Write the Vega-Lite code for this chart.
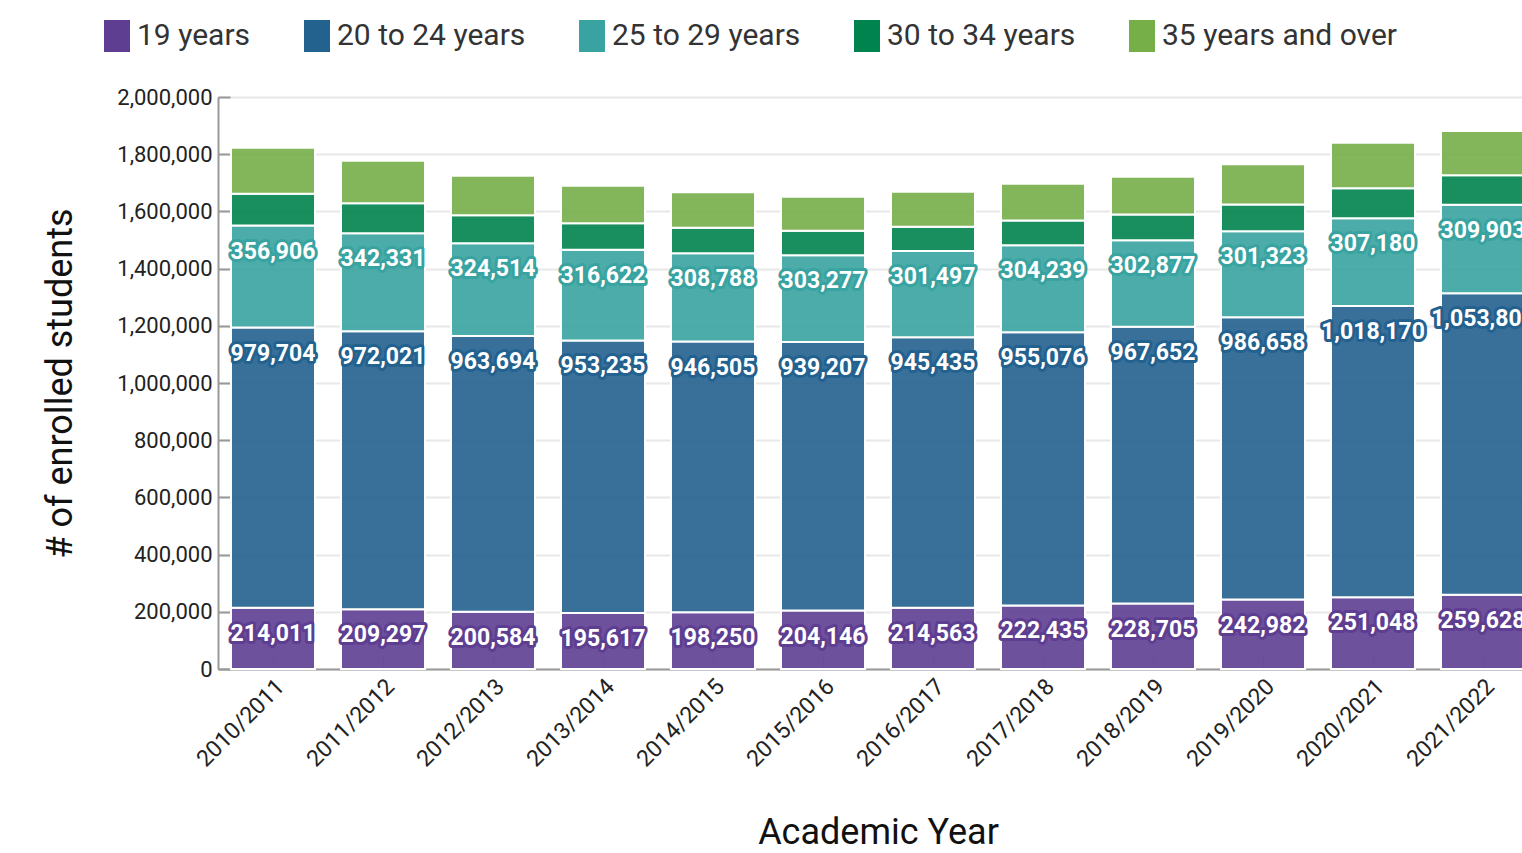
{
  "$schema": "https://vega.github.io/schema/vega-lite/v6.json",
  "width": 1304,
  "height": 572,
  "autosize": {"type": "none"},
  "padding": {"left": 218, "top": 97, "right": 0, "bottom": 184},
  "background": "white",
  "config": {"view": {"stroke": null}, "font": "Roboto"},
  "data": {"values": [
    {"year": "2010/2011", "group": "19 years", "order": 0, "value": 214011},
    {"year": "2010/2011", "group": "20 to 24 years", "order": 1, "value": 979704},
    {"year": "2010/2011", "group": "25 to 29 years", "order": 2, "value": 356906},
    {"year": "2010/2011", "group": "30 to 34 years", "order": 3, "value": 110800},
    {"year": "2010/2011", "group": "35 years and over", "order": 4, "value": 161000},
    {"year": "2011/2012", "group": "19 years", "order": 0, "value": 209297},
    {"year": "2011/2012", "group": "20 to 24 years", "order": 1, "value": 972021},
    {"year": "2011/2012", "group": "25 to 29 years", "order": 2, "value": 342331},
    {"year": "2011/2012", "group": "30 to 34 years", "order": 3, "value": 104900},
    {"year": "2011/2012", "group": "35 years and over", "order": 4, "value": 148600},
    {"year": "2012/2013", "group": "19 years", "order": 0, "value": 200584},
    {"year": "2012/2013", "group": "20 to 24 years", "order": 1, "value": 963694},
    {"year": "2012/2013", "group": "25 to 29 years", "order": 2, "value": 324514},
    {"year": "2012/2013", "group": "30 to 34 years", "order": 3, "value": 97600},
    {"year": "2012/2013", "group": "35 years and over", "order": 4, "value": 138500},
    {"year": "2013/2014", "group": "19 years", "order": 0, "value": 195617},
    {"year": "2013/2014", "group": "20 to 24 years", "order": 1, "value": 953235},
    {"year": "2013/2014", "group": "25 to 29 years", "order": 2, "value": 316622},
    {"year": "2013/2014", "group": "30 to 34 years", "order": 3, "value": 93400},
    {"year": "2013/2014", "group": "35 years and over", "order": 4, "value": 131100},
    {"year": "2014/2015", "group": "19 years", "order": 0, "value": 198250},
    {"year": "2014/2015", "group": "20 to 24 years", "order": 1, "value": 946505},
    {"year": "2014/2015", "group": "25 to 29 years", "order": 2, "value": 308788},
    {"year": "2014/2015", "group": "30 to 34 years", "order": 3, "value": 89200},
    {"year": "2014/2015", "group": "35 years and over", "order": 4, "value": 124100},
    {"year": "2015/2016", "group": "19 years", "order": 0, "value": 204146},
    {"year": "2015/2016", "group": "20 to 24 years", "order": 1, "value": 939207},
    {"year": "2015/2016", "group": "25 to 29 years", "order": 2, "value": 303277},
    {"year": "2015/2016", "group": "30 to 34 years", "order": 3, "value": 85700},
    {"year": "2015/2016", "group": "35 years and over", "order": 4, "value": 119200},
    {"year": "2016/2017", "group": "19 years", "order": 0, "value": 214563},
    {"year": "2016/2017", "group": "20 to 24 years", "order": 1, "value": 945435},
    {"year": "2016/2017", "group": "25 to 29 years", "order": 2, "value": 301497},
    {"year": "2016/2017", "group": "30 to 34 years", "order": 3, "value": 85000},
    {"year": "2016/2017", "group": "35 years and over", "order": 4, "value": 122400},
    {"year": "2017/2018", "group": "19 years", "order": 0, "value": 222435},
    {"year": "2017/2018", "group": "20 to 24 years", "order": 1, "value": 955076},
    {"year": "2017/2018", "group": "25 to 29 years", "order": 2, "value": 304239},
    {"year": "2017/2018", "group": "30 to 34 years", "order": 3, "value": 86400},
    {"year": "2017/2018", "group": "35 years and over", "order": 4, "value": 128700},
    {"year": "2018/2019", "group": "19 years", "order": 0, "value": 228705},
    {"year": "2018/2019", "group": "20 to 24 years", "order": 1, "value": 967652},
    {"year": "2018/2019", "group": "25 to 29 years", "order": 2, "value": 302877},
    {"year": "2018/2019", "group": "30 to 34 years", "order": 3, "value": 89900},
    {"year": "2018/2019", "group": "35 years and over", "order": 4, "value": 132200},
    {"year": "2019/2020", "group": "19 years", "order": 0, "value": 242982},
    {"year": "2019/2020", "group": "20 to 24 years", "order": 1, "value": 986658},
    {"year": "2019/2020", "group": "25 to 29 years", "order": 2, "value": 301323},
    {"year": "2019/2020", "group": "30 to 34 years", "order": 3, "value": 93000},
    {"year": "2019/2020", "group": "35 years and over", "order": 4, "value": 140600},
    {"year": "2020/2021", "group": "19 years", "order": 0, "value": 251048},
    {"year": "2020/2021", "group": "20 to 24 years", "order": 1, "value": 1018170},
    {"year": "2020/2021", "group": "25 to 29 years", "order": 2, "value": 307180},
    {"year": "2020/2021", "group": "30 to 34 years", "order": 3, "value": 104500},
    {"year": "2020/2021", "group": "35 years and over", "order": 4, "value": 159400},
    {"year": "2021/2022", "group": "19 years", "order": 0, "value": 259628},
    {"year": "2021/2022", "group": "20 to 24 years", "order": 1, "value": 1053804},
    {"year": "2021/2022", "group": "25 to 29 years", "order": 2, "value": 309903},
    {"year": "2021/2022", "group": "30 to 34 years", "order": 3, "value": 103100},
    {"year": "2021/2022", "group": "35 years and over", "order": 4, "value": 154500}
  ]},
  "transform": [
    {"stack": "value", "groupby": ["year"], "sort": [{"field": "order", "order": "ascending"}], "as": ["y0", "y1"]}
  ],
  "encoding": {
    "x": {
      "field": "year", "type": "ordinal",
      "scale": {"range": [0, 1320], "paddingInner": 0.236, "paddingOuter": 0.118},
      "axis": {
        "title": "Academic Year", "labelAngle": -45, "labelFontSize": 23, "labelColor": "#222",
        "labelPadding": 20, "titleFontSize": 36, "titleFontWeight": "normal", "titleColor": "#111",
        "titleY": 163, "titleX": 660, "titleBaseline": "middle",
        "domainColor": "#999", "domainWidth": 2, "tickSize": -14, "tickColor": "#888", "tickOpacity": 0.35
      }
    },
    "y": {
      "field": "y1", "type": "quantitative", "stack": null,
      "scale": {"domain": [0, 2000000], "nice": false},
      "axis": {
        "title": "# of enrolled students", "format": ",d",
        "values": [0, 200000, 400000, 600000, 800000, 1000000, 1200000, 1400000, 1600000, 1800000, 2000000],
        "labelFontSize": 22, "labelColor": "#222", "labelPadding": 18,
        "titleFontSize": 36, "titleFontWeight": "normal", "titleColor": "#111",
        "titleX": -158, "titleY": 286, "titleAngle": -90, "titleBaseline": "middle",
        "domainColor": "#999", "domainWidth": 2, "tickColor": "#999", "tickWidth": 2, "tickSize": -12,
        "gridColor": "#e8e8e8", "gridWidth": 2
      }
    }
  },
  "layer": [
    {
      "mark": {"type": "bar", "stroke": "white", "strokeWidth": 2, "fillOpacity": 0.9},
      "encoding": {
        "y2": {"field": "y0"},
        "color": {
          "field": "group", "type": "nominal",
          "scale": {
            "domain": ["19 years", "20 to 24 years", "25 to 29 years", "30 to 34 years", "35 years and over"],
            "range": ["#5e3e91", "#23618f", "#38a3a0", "#00834e", "#76ae48"]
          },
          "legend": {
            "orient": "none", "legendX": -117, "legendY": -77, "direction": "horizontal",
            "title": null, "symbolType": "M-0.8125,-1H0.8125V1H-0.8125Z", "symbolSize": 1024,
            "symbolStrokeWidth": 0, "symbolOpacity": 1, "labelFontSize": 30, "labelColor": "#333",
            "labelOffset": 4, "columnPadding": 50, "labelLimit": 400
          }
        }
      }
    },
    {
      "transform": [{"filter": "datum.order <= 2"}],
      "mark": {"type": "text", "dy": 26, "fontSize": 23, "fontWeight": "bold", "baseline": "middle",
               "fill": "white", "strokeWidth": 6, "strokeJoin": "round"},
      "encoding": {
        "text": {"field": "value", "type": "quantitative", "format": ","},
        "stroke": {
          "field": "group", "type": "nominal",
          "scale": {
            "domain": ["19 years", "20 to 24 years", "25 to 29 years", "30 to 34 years", "35 years and over"],
            "range": ["#5e3e91", "#23618f", "#38a3a0", "#00834e", "#76ae48"]
          },
          "legend": null
        }
      }
    },
    {
      "transform": [{"filter": "datum.order <= 2"}],
      "mark": {"type": "text", "dy": 26, "fontSize": 23, "fontWeight": "bold", "baseline": "middle", "fill": "white"},
      "encoding": {
        "text": {"field": "value", "type": "quantitative", "format": ","}
      }
    }
  ]
}
